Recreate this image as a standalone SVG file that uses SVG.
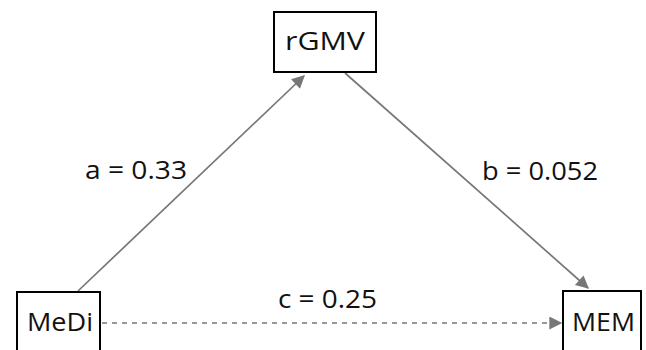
<svg xmlns="http://www.w3.org/2000/svg" width="646" height="350" viewBox="0 0 646 350">
  <style>
    .box { fill: #fff; stroke: #000; stroke-width: 2; }
    .lbl { font-family: "Open Sans", "Noto Sans", sans-serif; font-size: 26px; fill: #111; }
    .edge { stroke: #777; stroke-width: 1.7; fill: none; }
    .dash { stroke-dasharray: 5 5; }
  </style>
  <defs>
    <marker id="arrowBig" viewBox="0 0 10 10" refX="9" refY="5" markerWidth="17" markerHeight="13" markerUnits="userSpaceOnUse" orient="auto">
      <path d="M0,0 L10,5 L0,10 Z" fill="#777"/>
    </marker>
  </defs>
  <rect width="646" height="350" fill="#fff"/>
  <g id="connectors">
    <line class="edge" x1="78" y1="291" x2="304" y2="76" marker-end="url(#arrowBig)"/>
    <line class="edge" x1="345" y1="73" x2="588" y2="288" marker-end="url(#arrowBig)"/>
    <line class="edge dash" x1="102" y1="323" x2="561" y2="323" marker-end="url(#arrowBig)"/>
  </g>
  <g id="rGMV">
    <rect class="box" x="274" y="12" width="102" height="60"/>
    <text class="lbl" x="285" y="50" textLength="80" lengthAdjust="spacingAndGlyphs">rGMV</text>
  </g>
  <g id="MeDi">
    <rect class="box" x="17" y="292" width="83" height="70"/>
    <text class="lbl" x="27" y="331" textLength="66" lengthAdjust="spacingAndGlyphs">MeDi</text>
  </g>
  <g id="MEM">
    <rect class="box" x="563" y="291" width="78" height="70"/>
    <text class="lbl" x="572" y="331" textLength="63" lengthAdjust="spacingAndGlyphs">MEM</text>
  </g>
  <g id="labels">
    <text class="lbl" x="85" y="179" textLength="102" lengthAdjust="spacingAndGlyphs">a = 0.33</text>
    <text class="lbl" x="482" y="180" textLength="116" lengthAdjust="spacingAndGlyphs">b = 0.052</text>
    <text class="lbl" x="278" y="308" textLength="99" lengthAdjust="spacingAndGlyphs">c = 0.25</text>
  </g>
</svg>
